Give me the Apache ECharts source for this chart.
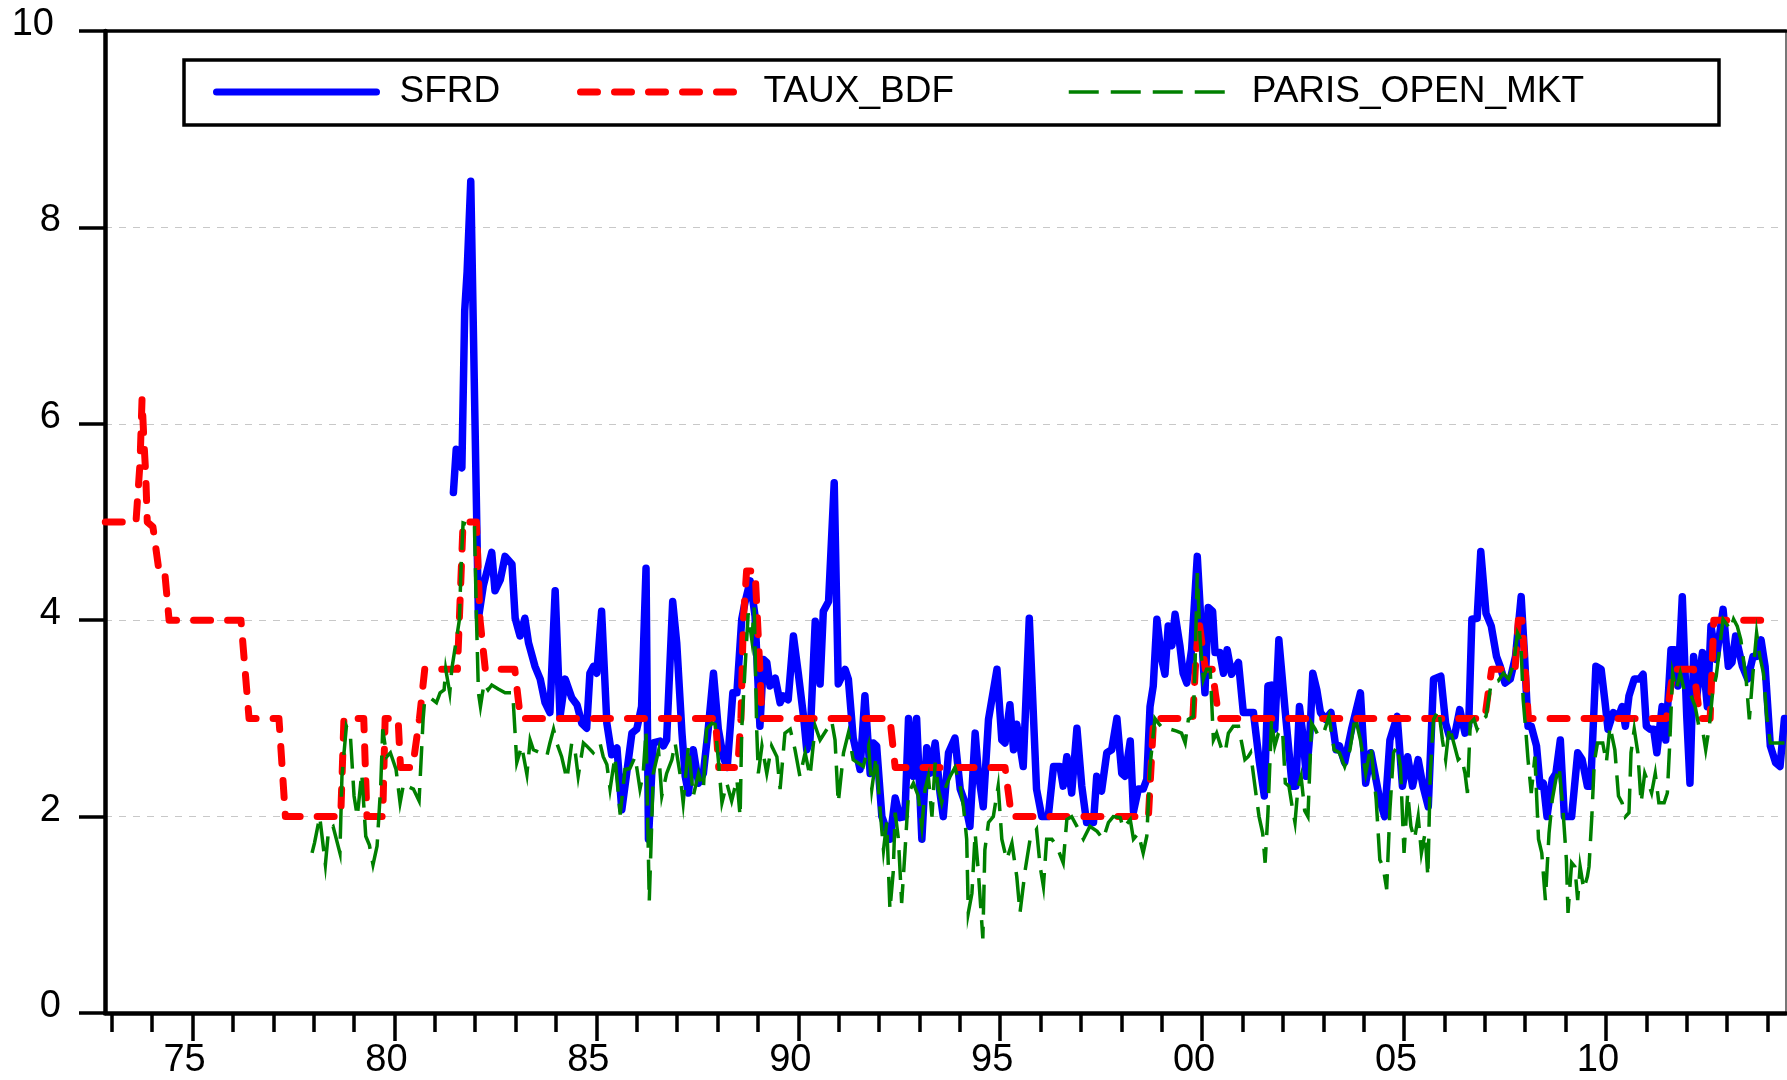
<!DOCTYPE html>
<html>
<head>
<meta charset="utf-8">
<title>SFRD, TAUX_BDF, PARIS_OPEN_MKT</title>
<script src="https://cdn.jsdelivr.net/npm/echarts@6/dist/echarts.min.js"></script>
<style>
  html, body { margin: 0; padding: 0; background: #ffffff; }
  #chart { width: 1787px; height: 1080px; }
</style>
</head>
<body>
<div id="chart"></div>
<script>
// Series names as shown in the legend
const seriesNames = ['SFRD', 'TAUX_BDF', 'PARIS_OPEN_MKT'];

// SFRD: [decimal year, rate %]
const sfrd = [
  [1981.46,5.30],[1981.53,5.74],[1981.67,5.55],[1981.74,7.15],[1981.80,7.55],[1981.89,8.47],[1982.08,4.02],[1982.20,4.35],
  [1982.41,4.69],[1982.49,4.30],[1982.62,4.41],[1982.74,4.65],[1982.91,4.57],[1982.99,4.02],[1983.11,3.84],[1983.23,4.02],
  [1983.32,3.77],[1983.48,3.53],[1983.61,3.40],[1983.73,3.16],[1983.85,3.06],[1983.98,4.30],[1984.10,3.02],[1984.23,3.40],
  [1984.39,3.21],[1984.52,3.14],[1984.64,2.95],[1984.76,2.90],[1984.84,3.46],[1984.93,3.53],[1985.01,3.46],[1985.13,4.09],
  [1985.26,2.95],[1985.38,2.63],[1985.51,2.70],[1985.63,2.07],[1985.75,2.44],[1985.88,2.85],[1986.00,2.89],[1986.12,3.12],
  [1986.23,4.53],[1986.29,1.77],[1986.41,2.75],[1986.58,2.77],[1986.66,2.72],[1986.74,2.78],[1986.89,4.19],[1986.99,3.77],
  [1987.12,2.85],[1987.20,2.41],[1987.28,2.24],[1987.40,2.68],[1987.53,2.34],[1987.65,2.44],[1987.77,2.89],[1987.90,3.46],
  [1988.02,2.89],[1988.14,2.61],[1988.24,2.50],[1988.38,3.26],[1988.48,3.26],[1988.60,4.01],[1988.68,4.18],[1988.81,4.40],
  [1988.93,4.04],[1989.05,2.92],[1989.14,3.60],[1989.22,3.57],[1989.30,3.33],[1989.43,3.41],[1989.55,3.16],[1989.63,3.23],
  [1989.75,3.19],[1989.88,3.84],[1990.00,3.46],[1990.13,3.02],[1990.21,2.68],[1990.29,2.78],[1990.42,3.99],[1990.54,3.35],
  [1990.62,4.09],[1990.75,4.19],[1990.89,5.40],[1990.99,3.35],[1991.16,3.50],[1991.24,3.40],[1991.36,2.80],[1991.53,2.48],
  [1991.65,3.23],[1991.78,2.44],[1991.86,2.75],[1991.94,2.72],[1992.07,2.00],[1992.27,1.77],[1992.40,2.19],[1992.52,1.99],
  [1992.64,2.00],[1992.73,3.00],[1992.85,2.41],[1992.93,3.00],[1993.06,1.77],[1993.18,2.70],[1993.26,2.44],[1993.39,2.75],
  [1993.51,2.24],[1993.59,2.00],[1993.72,2.65],[1993.88,2.80],[1994.01,2.28],[1994.13,2.14],[1994.25,1.90],[1994.38,2.85],
  [1994.46,2.44],[1994.58,2.10],[1994.71,2.99],[1994.92,3.50],[1995.04,2.78],[1995.12,2.75],[1995.24,3.14],[1995.33,2.68],
  [1995.41,2.94],[1995.57,2.51],[1995.72,4.02],[1995.90,2.28],[1996.03,2.00],[1996.19,2.00],[1996.32,2.51],[1996.48,2.51],
  [1996.56,2.31],[1996.65,2.61],[1996.77,2.24],[1996.90,2.90],[1997.02,2.31],[1997.14,1.94],[1997.31,1.94],[1997.39,2.41],
  [1997.51,2.26],[1997.64,2.65],[1997.76,2.68],[1997.89,3.00],[1998.01,2.44],[1998.09,2.41],[1998.22,2.77],[1998.30,2.05],
  [1998.42,2.28],[1998.54,2.28],[1998.63,2.38],[1998.71,3.12],[1998.79,3.33],[1998.88,4.01],[1999.00,3.60],[1999.08,3.45],
  [1999.16,3.94],[1999.25,3.74],[1999.33,4.06],[1999.45,3.74],[1999.53,3.46],[1999.62,3.36],[1999.74,3.70],[1999.88,4.65],
  [1999.99,3.84],[2000.07,3.26],[2000.15,4.13],[2000.26,4.09],[2000.32,3.67],[2000.44,3.67],[2000.53,3.46],[2000.62,3.70],
  [2000.73,3.45],[2000.90,3.57],[2001.02,3.06],[2001.27,3.06],[2001.41,2.58],[2001.54,2.21],[2001.63,3.33],[2001.72,3.34],
  [2001.80,2.89],[2001.90,3.80],[2002.06,3.06],[2002.23,2.31],[2002.32,2.31],[2002.41,3.12],[2002.49,2.85],[2002.58,2.41],
  [2002.67,2.85],[2002.74,3.46],[2002.84,3.29],[2002.93,3.06],[2003.06,2.99],[2003.19,3.06],[2003.32,2.68],[2003.40,2.72],
  [2003.53,2.55],[2003.70,2.89],[2003.92,3.26],[2004.05,2.34],[2004.18,2.65],[2004.40,2.17],[2004.52,2.00],[2004.65,2.78],
  [2004.83,3.02],[2004.96,2.31],[2005.09,2.61],[2005.21,2.31],[2005.35,2.58],[2005.47,2.31],[2005.60,2.10],[2005.73,3.40],
  [2005.91,3.43],[2006.03,2.95],[2006.12,2.82],[2006.25,2.82],[2006.38,3.09],[2006.51,2.85],[2006.60,2.92],[2006.68,4.01],
  [2006.81,4.02],[2006.90,4.70],[2007.03,4.07],[2007.16,3.94],[2007.29,3.63],[2007.38,3.53],[2007.50,3.36],[2007.63,3.40],
  [2007.76,3.63],[2007.90,4.24],[2007.98,3.67],[2008.07,2.92],[2008.15,2.92],[2008.28,2.72],[2008.37,2.31],[2008.45,2.34],
  [2008.54,2.00],[2008.67,2.38],[2008.76,2.44],[2008.87,2.78],[2008.97,2.00],[2009.15,2.00],[2009.30,2.65],[2009.41,2.58],
  [2009.54,2.31],[2009.62,2.31],[2009.75,3.53],[2009.88,3.50],[2009.97,3.19],[2010.05,2.89],[2010.18,3.06],[2010.31,3.02],
  [2010.40,3.12],[2010.48,2.92],[2010.57,3.23],[2010.70,3.40],[2010.83,3.40],[2010.92,3.45],[2011.00,2.92],[2011.09,2.89],
  [2011.18,2.89],[2011.26,2.65],[2011.39,3.12],[2011.48,2.78],[2011.61,3.70],[2011.70,3.70],[2011.78,3.33],[2011.89,4.24],
  [2012.00,3.02],[2012.08,2.34],[2012.17,3.63],[2012.25,3.23],[2012.39,3.67],[2012.51,3.12],[2012.60,3.94],[2012.73,3.60],
  [2012.90,4.11],[2013.03,3.53],[2013.12,3.57],[2013.21,3.84],[2013.38,3.53],[2013.51,3.40],[2013.64,3.63],[2013.73,3.63],
  [2013.84,3.80],[2013.94,3.53],[2014.07,2.72],[2014.20,2.55],[2014.31,2.51],[2014.42,3.00]
];

// TAUX_BDF: [decimal year, rate %] at each level change
const tauxBdf = [
  [1972.84,5.00],[1973.60,5.00],[1973.70,5.60],[1973.75,6.25],[1973.80,5.80],[1973.84,5.50],[1973.88,5.00],[1974.02,4.95],
  [1974.17,4.50],[1974.31,4.50],[1974.42,4.00],[1976.20,4.00],[1976.40,3.00],[1977.14,3.00],[1977.30,2.00],[1978.67,2.00],
  [1978.75,3.00],[1979.24,3.00],[1979.32,2.00],[1979.71,2.00],[1979.77,3.00],[1980.09,3.00],[1980.15,2.50],[1980.45,2.50],
  [1980.62,3.00],[1980.75,3.50],[1981.56,3.50],[1981.70,5.00],[1982.03,5.00],[1982.12,4.00],[1982.25,3.50],[1982.98,3.50],
  [1983.12,3.00],[1987.95,3.00],[1988.03,2.50],[1988.50,2.50],[1988.58,3.00],[1988.64,4.00],[1988.72,4.50],[1988.93,4.50],
  [1988.99,4.00],[1989.05,3.50],[1989.10,3.00],[1992.27,3.00],[1992.40,2.50],[1995.12,2.50],[1995.28,2.00],[1998.67,2.00],
  [1998.80,3.00],[1999.77,3.00],[1999.83,3.50],[1999.92,4.00],[2000.00,3.75],[2000.08,3.50],[2000.25,3.50],[2000.33,3.25],
  [2000.42,3.00],[2007.00,3.00],[2007.08,3.25],[2007.17,3.50],[2007.75,3.50],[2007.83,4.00],[2007.92,4.00],[2008.00,3.50],
  [2008.08,3.00],[2011.50,3.00],[2011.58,3.25],[2011.67,3.50],[2012.17,3.50],[2012.25,3.25],[2012.33,3.00],[2012.58,3.00],
  [2012.67,4.00],[2013.92,4.00]
];

// PARIS_OPEN_MKT: [decimal year, rate %]
const parisOpenMkt = [
  [1977.96,1.63],[1978.02,1.73],[1978.15,2.00],[1978.29,1.51],[1978.37,1.87],[1978.48,1.90],[1978.65,1.63],[1978.70,2.41],
  [1978.81,2.92],[1978.91,2.82],[1979.00,2.21],[1979.08,2.00],[1979.19,2.44],[1979.29,1.80],[1979.38,1.71],[1979.47,1.51],
  [1979.57,1.70],[1979.66,2.31],[1979.71,2.89],[1979.81,2.61],[1979.90,2.65],[1980.04,2.48],[1980.14,2.14],[1980.23,2.34],
  [1980.36,2.30],[1980.47,2.28],[1980.61,2.16],[1980.71,2.99],[1980.75,3.19],[1980.89,3.21],[1981.04,3.16],[1981.13,3.26],
  [1981.23,3.29],[1981.27,3.50],[1981.37,3.26],[1981.42,3.50],[1981.51,3.74],[1981.61,4.01],[1981.65,4.55],[1981.70,4.99],
  [1981.84,4.97],[1981.98,4.99],[1982.03,4.04],[1982.08,3.26],[1982.13,3.12],[1982.22,3.36],[1982.32,3.29],[1982.41,3.34],
  [1982.57,3.30],[1982.74,3.26],[1982.93,3.26],[1983.03,2.55],[1983.15,2.72],[1983.28,2.43],[1983.36,2.78],[1983.44,2.68],
  [1983.61,2.65],[1983.77,2.61],[1983.85,2.75],[1983.94,2.89],[1984.02,2.75],[1984.14,2.61],[1984.27,2.38],[1984.39,2.75],
  [1984.47,2.68],[1984.55,2.41],[1984.68,2.75],[1984.76,2.72],[1984.92,2.65],[1985.09,2.75],[1985.17,2.61],[1985.26,2.53],
  [1985.34,2.28],[1985.46,2.61],[1985.59,2.02],[1985.71,2.48],[1985.83,2.49],[1985.96,2.61],[1986.08,2.28],[1986.16,2.44],
  [1986.23,2.87],[1986.31,1.14],[1986.41,2.44],[1986.54,2.67],[1986.62,2.21],[1986.74,2.44],[1986.87,2.58],[1986.95,2.75],
  [1987.07,2.44],[1987.15,2.14],[1987.28,2.72],[1987.40,2.21],[1987.53,2.44],[1987.65,2.28],[1987.73,2.89],[1987.86,2.95],
  [1987.94,2.94],[1988.02,2.58],[1988.11,2.14],[1988.23,2.34],[1988.35,2.16],[1988.48,2.38],[1988.56,2.00],[1988.60,2.89],
  [1988.68,3.50],[1988.76,4.07],[1988.85,3.80],[1988.91,4.13],[1988.97,2.89],[1989.01,2.44],[1989.10,2.72],[1989.22,2.44],
  [1989.34,2.72],[1989.47,2.61],[1989.55,2.28],[1989.67,2.85],[1989.80,2.89],[1989.92,2.68],[1990.04,2.41],[1990.17,2.65],
  [1990.29,2.41],[1990.42,2.92],[1990.54,2.78],[1990.71,2.89],[1990.83,2.97],[1990.91,2.78],[1990.99,2.14],[1991.12,2.65],
  [1991.24,2.85],[1991.36,2.58],[1991.61,2.51],[1991.74,2.72],[1991.82,2.28],[1991.93,2.61],[1992.02,2.10],[1992.11,1.66],
  [1992.19,1.94],[1992.27,1.05],[1992.35,1.43],[1992.40,2.04],[1992.48,1.77],[1992.56,1.12],[1992.64,1.63],[1992.73,2.24],
  [1992.85,2.34],[1992.97,2.21],[1993.06,1.90],[1993.14,2.28],[1993.22,2.41],[1993.31,2.00],[1993.39,2.55],[1993.47,2.28],
  [1993.55,2.14],[1993.63,2.28],[1993.76,2.41],[1993.88,2.50],[1994.01,2.31],[1994.09,2.10],[1994.17,1.77],[1994.21,1.02],
  [1994.30,1.22],[1994.38,1.83],[1994.46,1.43],[1994.57,0.76],[1994.62,1.66],[1994.71,1.94],[1994.83,2.00],[1994.95,2.31],
  [1995.04,1.77],[1995.16,1.56],[1995.29,1.73],[1995.41,1.39],[1995.49,1.02],[1995.62,1.46],[1995.74,1.77],[1995.90,1.87],
  [1995.99,1.49],[1996.07,1.29],[1996.15,1.77],[1996.28,1.77],[1996.40,1.70],[1996.56,1.53],[1996.65,1.97],[1996.77,2.00],
  [1996.90,1.90],[1997.06,1.77],[1997.22,1.90],[1997.40,1.85],[1997.55,1.77],[1997.68,1.94],[1997.80,2.00],[1997.97,1.99],
  [1998.05,1.88],[1998.22,1.97],[1998.30,1.77],[1998.42,1.83],[1998.54,1.63],[1998.63,1.80],[1998.71,2.51],[1998.83,3.00],
  [1998.92,2.95],[1999.04,2.89],[1999.21,2.89],[1999.37,2.87],[1999.49,2.85],[1999.58,2.75],[1999.66,2.99],[1999.78,3.02],
  [1999.82,3.46],[1999.88,4.48],[1999.95,3.80],[2000.03,3.40],[2000.11,3.50],[2000.20,3.50],[2000.28,2.78],[2000.36,2.85],
  [2000.49,2.68],[2000.57,2.65],[2000.65,2.85],[2000.77,2.92],[2000.90,2.92],[2000.98,2.75],[2001.06,2.58],[2001.14,2.61],
  [2001.20,2.65],[2001.33,2.24],[2001.41,2.00],[2001.50,1.83],[2001.56,1.53],[2001.63,2.04],[2001.72,2.99],[2001.80,2.72],
  [2001.89,2.85],[2001.99,2.89],[2002.06,2.34],[2002.15,2.31],[2002.23,2.10],[2002.30,1.94],[2002.37,2.28],[2002.45,2.41],
  [2002.54,2.06],[2002.62,2.00],[2002.71,2.95],[2002.80,2.89],[2002.88,2.82],[2003.01,2.85],[2003.14,3.02],[2003.27,2.68],
  [2003.40,2.65],[2003.53,2.51],[2003.66,2.68],[2003.79,3.02],[2003.92,2.78],[2004.05,2.44],[2004.18,2.72],[2004.31,2.17],
  [2004.40,1.56],[2004.48,1.49],[2004.57,1.26],[2004.65,2.07],[2004.74,2.65],[2004.83,2.72],[2004.91,2.51],[2005.00,1.63],
  [2005.09,2.24],[2005.17,1.90],[2005.26,1.77],[2005.35,2.00],[2005.43,1.63],[2005.52,1.83],[2005.59,1.39],[2005.65,2.44],
  [2005.73,2.99],[2005.86,3.09],[2005.95,2.78],[2006.03,2.58],[2006.12,2.92],[2006.25,2.72],[2006.34,2.58],[2006.42,2.61],
  [2006.51,2.44],[2006.57,2.24],[2006.64,2.95],[2006.73,2.99],[2006.81,2.89],[2006.94,2.99],[2007.03,3.02],[2007.12,3.26],
  [2007.16,3.36],[2007.33,3.38],[2007.46,3.46],[2007.59,3.40],[2007.72,3.57],[2007.81,3.87],[2007.89,3.80],[2007.95,3.19],
  [2008.02,2.85],[2008.07,2.58],[2008.15,2.24],[2008.24,2.61],[2008.33,1.77],[2008.41,1.63],[2008.50,1.15],[2008.59,1.83],
  [2008.67,2.17],[2008.76,2.38],[2008.84,2.51],[2008.93,2.10],[2009.02,1.56],[2009.06,1.02],[2009.15,1.53],[2009.23,1.49],
  [2009.30,1.15],[2009.36,1.49],[2009.45,1.26],[2009.54,1.39],[2009.58,1.49],[2009.65,2.00],[2009.71,2.55],[2009.79,2.75],
  [2009.92,2.75],[2010.01,2.55],[2010.10,2.92],[2010.22,2.68],[2010.31,2.21],[2010.40,2.14],[2010.48,2.00],[2010.57,2.04],
  [2010.62,2.65],[2010.70,2.89],[2010.79,2.65],[2010.87,2.14],[2010.96,2.44],[2011.05,2.34],[2011.13,2.24],[2011.22,2.44],
  [2011.31,2.14],[2011.44,2.14],[2011.52,2.24],[2011.58,2.75],[2011.65,3.46],[2011.74,3.29],[2011.84,3.46],[2011.95,3.26],
  [2012.08,3.26],[2012.21,3.12],[2012.30,2.92],[2012.39,2.89],[2012.47,2.68],[2012.56,2.92],[2012.64,3.26],[2012.73,3.43],
  [2012.82,3.74],[2012.90,4.01],[2012.99,3.96],[2013.08,3.90],[2013.16,4.01],[2013.25,3.94],[2013.34,3.80],[2013.47,3.40],
  [2013.55,2.99],[2013.64,3.46],[2013.73,3.87],[2013.81,3.63],[2013.90,3.46],[2013.98,3.02],[2014.07,2.75],[2014.24,2.75],
  [2014.42,2.75]
];

// Year ticks on the time axis (short) and labelled five-year ticks (long)
const yearTicks = [1973,1974,1975,1976,1977,1978,1979,1980,1981,1982,1983,1984,1985,1986,1987,1988,1989,1990,1991,1992,
                   1993,1994,1995,1996,1997,1998,1999,2000,2001,2002,2003,2004,2005,2006,2007,2008,2009,2010,2011,2012,2013,2014];
const labelYears = [1975,1980,1985,1990,1995,2000,2005,2010];

const FONT = "'Liberation Sans', Arial, Helvetica, sans-serif";
const X_MIN = 1972.833;
const X_MAX = 2014.458;
const BLUE = '#0000ff', RED = '#ff0000', GREEN = '#008000';

const chart = echarts.init(document.getElementById('chart'), null, { renderer: 'canvas' });

const legendBase = {
  orient: 'horizontal',
  top: 71,
  padding: 0,
  itemWidth: 160,
  itemHeight: 14,
  itemGap: 0,
  selectedMode: false,
  itemStyle: { color: 'rgba(0,0,0,0)', borderWidth: 0 },
  textStyle: { fontFamily: FONT, fontSize: 37, color: '#000', lineHeight: 42, padding: [0, 0, 0, 18] }
};

chart.setOption({
  animation: false,
  backgroundColor: '#ffffff',
  grid: { left: 105, right: 1, top: 31, bottom: 66, containLabel: false },
  graphic: [{
    type: 'rect',
    shape: { x: 184, y: 60, width: 1535, height: 65 },
    style: { fill: 'rgba(0,0,0,0)', stroke: '#000', lineWidth: 3.5 },
    z: 1
  }],
  legend: [
    Object.assign({}, legendBase, { left: 213, data: [seriesNames[0]], lineStyle: { width: 7 } }),
    Object.assign({}, legendBase, { left: 577, data: [seriesNames[1]], lineStyle: { width: 7 } }),
    Object.assign({}, legendBase, { left: 1067, data: [seriesNames[2]], lineStyle: { width: 3.5 } })
  ],
  xAxis: [
    {
      type: 'value', min: X_MIN, max: X_MAX, position: 'bottom',
      axisLine: { show: true, onZero: false, lineStyle: { color: '#000', width: 4.5 } },
      axisTick: { show: true, customValues: yearTicks, length: 19, lineStyle: { color: '#000', width: 3.5 } },
      axisLabel: {
        customValues: labelYears, margin: 29, fontFamily: FONT, fontSize: 38, color: '#000',
        padding: [0, 16, 0, 0],
        formatter: v => String(Math.round(v) % 100).padStart(2, '0')
      },
      splitLine: { show: false }
    },
    {
      type: 'value', min: X_MIN, max: X_MAX, position: 'bottom',
      axisLine: { show: false },
      axisTick: { show: true, customValues: labelYears, length: 28, lineStyle: { color: '#000', width: 3.5 } },
      axisLabel: { show: false },
      splitLine: { show: false }
    },
    {
      type: 'value', min: X_MIN, max: X_MAX, position: 'top',
      axisLine: { show: true, onZero: false, lineStyle: { color: '#000', width: 3.5 } },
      axisTick: { show: false }, axisLabel: { show: false }, splitLine: { show: false }
    }
  ],
  yAxis: [
    {
      type: 'value', min: 0, max: 10, interval: 2, position: 'left',
      axisLine: { show: true, onZero: false, lineStyle: { color: '#000', width: 4.5 } },
      axisTick: { show: true, length: 26, lineStyle: { color: '#000', width: 3.5 } },
      axisLabel: {
        margin: 44, fontFamily: FONT, fontSize: 38, color: '#000',
        verticalAlign: 'bottom', lineHeight: 13,
        formatter: v => (v === 10 ? '{wide|10}' : String(v)),
        rich: { wide: { fontFamily: FONT, fontSize: 38, color: '#000', lineHeight: 13, padding: [0, 7, 0, 0] } }
      },
      splitLine: {
        show: true, showMinLine: false, showMaxLine: false,
        lineStyle: { color: '#c8c8c8', width: 1, type: [7, 7] }
      }
    },
    {
      type: 'value', min: 0, max: 10, position: 'right',
      axisLine: { show: true, onZero: false, lineStyle: { color: '#777', width: 2 } },
      axisTick: { show: false }, axisLabel: { show: false }, splitLine: { show: false }
    }
  ],
  series: [
    {
      name: seriesNames[0], type: 'line', data: sfrd,
      xAxisIndex: 0, yAxisIndex: 0, symbol: 'none', showSymbol: false, z: 3,
      itemStyle: { color: BLUE },
      lineStyle: { color: BLUE, width: 7.5, cap: 'round', join: 'round' }
    },
    {
      name: seriesNames[1], type: 'line', data: tauxBdf,
      xAxisIndex: 0, yAxisIndex: 0, symbol: 'none', showSymbol: false, z: 4,
      itemStyle: { color: RED },
      lineStyle: { color: RED, width: 7, type: [17, 17], cap: 'round', join: 'round' }
    },
    {
      name: seriesNames[2], type: 'line', data: parisOpenMkt,
      xAxisIndex: 0, yAxisIndex: 0, symbol: 'none', showSymbol: false, z: 5,
      itemStyle: { color: GREEN },
      lineStyle: { color: GREEN, width: 3.5, type: [30, 12], cap: 'butt', join: 'miter' }
    }
  ]
});
</script>
</body>
</html>
